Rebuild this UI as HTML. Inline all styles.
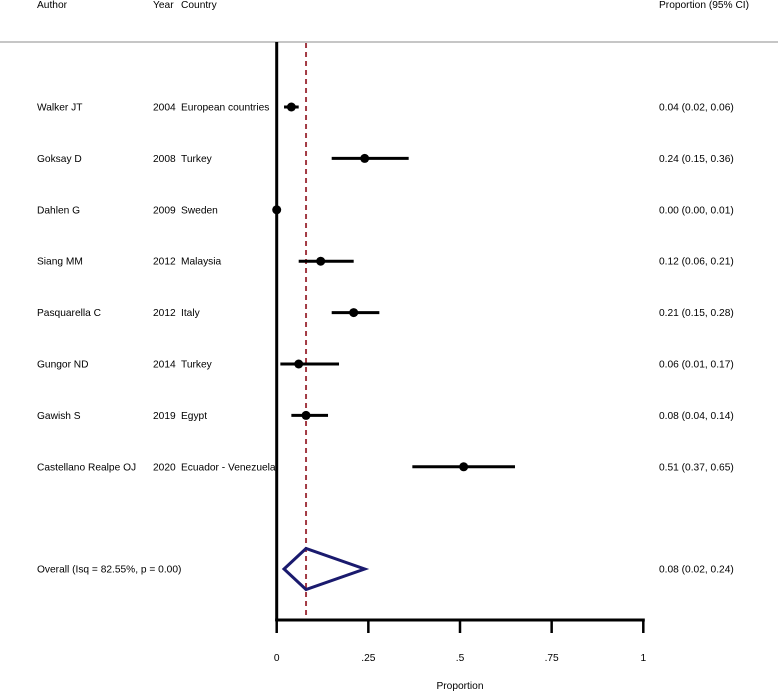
<!DOCTYPE html>
<html><head><meta charset="utf-8"><style>
html,body{margin:0;padding:0;background:#fff;width:778px;height:691px;overflow:hidden}
svg text{font-family:"Liberation Sans",Arial,sans-serif;font-size:10.2px;fill:#000}
</style></head><body>
<svg id="chart" width="778" height="691" viewBox="0 0 778 691" xmlns="http://www.w3.org/2000/svg">
<g id="hdr">
<text x="37" y="8">Author</text>
<text x="153" y="8">Year</text>
<text x="181" y="8">Country</text>
<text x="659" y="8">Proportion (95% CI)</text>
</g>
<line x1="0" y1="42" x2="778" y2="42" stroke="#c6c6c6" stroke-width="2"/>
<g id="plot"></g>
</svg>
<script>
const authors=["Walker JT","Goksay D","Dahlen G","Siang MM","Pasquarella C","Gungor ND","Gawish S","Castellano Realpe OJ"];
const years=["2004","2008","2009","2012","2012","2014","2019","2020"];
const countries=["European countries","Turkey","Sweden","Malaysia","Italy","Turkey","Egypt","Ecuador - Venezuela"];
const est=[0.04,0.24,0.00,0.12,0.21,0.06,0.08,0.51];
const lo=[0.02,0.15,0.00,0.06,0.15,0.01,0.04,0.37];
const hi=[0.06,0.36,0.01,0.21,0.28,0.17,0.14,0.65];
const overallLabel="Overall (Isq = 82.55%, p = 0.00)";
const overall=[0.08,0.02,0.24];
const ticks=[0,0.25,0.5,0.75,1];
const tickLabels=["0",".25",".5",".75","1"];

const NS="http://www.w3.org/2000/svg";
const g=document.getElementById('plot');
const xs=v=>276.7+v*366.6;
const ys=i=>107+i*51.4;
const yOverall=569;
function el(t,a,txt){const e=document.createElementNS(NS,t);for(const k in a)e.setAttribute(k,a[k]);if(txt!==undefined)e.textContent=txt;g.appendChild(e);return e;}
function fmt(v){return v.toFixed(2);}

// overall dashed line (drawn behind marks)
let dl=el('line',{x1:xs(overall[0]),x2:xs(overall[0]),y1:43,y2:620,stroke:'#a33a44','stroke-width':2,'stroke-dasharray':'5,4'});



for(let i=0;i<est.length;i++){
  const y=ys(i);
  let t=el('text',{x:37,y:y+3.5},authors[i]);
  
  
  t=el('text',{x:153,y:y+3.5},years[i]);
  
  
  t=el('text',{x:181,y:y+3.5},countries[i]);
  
  
  t=el('text',{x:659,y:y+3.5},fmt(est[i])+" ("+fmt(lo[i])+", "+fmt(hi[i])+")");
  
  
  const l=el('line',{x1:xs(lo[i]),x2:xs(hi[i]),y1:y,y2:y,stroke:'#000','stroke-width':3});
  
  
  const c=el('circle',{cx:xs(est[i]),cy:y,r:4.5,fill:'#000'});
  
  
}
let ot=el('text',{x:37,y:yOverall+3.5},overallLabel);


ot=el('text',{x:659,y:yOverall+3.5},fmt(overall[0])+" ("+fmt(overall[1])+", "+fmt(overall[2])+")");



// axes
let ax=el('line',{x1:276.7,x2:276.7,y1:42,y2:621,stroke:'#000','stroke-width':3});


ax=el('line',{x1:275.2,x2:644.8,y1:620,y2:620,stroke:'#000','stroke-width':3});


for(let k=0;k<ticks.length;k++){
  const x=xs(ticks[k]);
  const tk=el('line',{x1:x,x2:x,y1:620,y2:633,stroke:'#000','stroke-width':2.5});
  
  
  const tl=el('text',{x:x,y:661,'text-anchor':'middle'},tickLabels[k]);
  
  
}
let xt=el('text',{x:xs(0.5),y:689,'text-anchor':'middle'},"Proportion");



// diamond
const dp=[[xs(overall[1]),yOverall],[xs(overall[0]),yOverall-20.5],[xs(overall[2]),yOverall],[xs(overall[0]),yOverall+20.5]];
let dm=el('polygon',{points:dp.map(p=>p.join(',')).join(' '),fill:'none',stroke:'#1a1a6e','stroke-width':3,'stroke-linejoin':'miter'});


</script>
</body></html>
